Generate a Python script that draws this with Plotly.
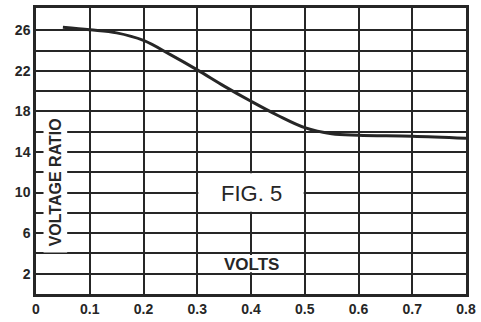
import plotly.graph_objects as go

# Voltage ratio versus applied volts
volts = [0.05, 0.1, 0.15, 0.2, 0.25, 0.3, 0.35, 0.4, 0.45, 0.5, 0.55, 0.6, 0.7, 0.8]
ratio = [26.3, 26.05, 25.75, 25.0, 23.6, 22.1, 20.5, 19.0, 17.6, 16.4, 15.8, 15.65, 15.55, 15.35]

x_ticks = [0, 0.1, 0.2, 0.3, 0.4, 0.5, 0.6, 0.7, 0.8]
x_labels = ["0", "0.1", "0.2", "0.3", "0.4", "0.5", "0.6", "0.7", "0.8"]
y_ticks = [0, 2, 4, 6, 8, 10, 12, 14, 16, 18, 20, 22, 24, 26]
y_labels = ["", "2", "", "6", "", "10", "", "14", "", "18", "", "22", "", "26"]

INK = "#262626"
TICK_FONT = dict(family="Liberation Sans", size=14, color=INK, weight="bold")

fig = go.Figure()
fig.add_trace(go.Scatter(
    x=volts, y=ratio, mode="lines",
    line=dict(color=INK, width=3, shape="spline", smoothing=1.0),
    hoverinfo="skip", showlegend=False,
))

# white panels that interrupt the grid behind the lettering
panels = [
    (0.014, 0.058, 4.1, 17.9),   # y-axis title
    (0.302, 0.498, 8.1, 11.9),   # figure caption
    (0.315, 0.485, 2.15, 3.85),  # x-axis title
]
for x0, x1, y0, y1 in panels:
    fig.add_shape(type="rect", xref="x", yref="y", x0=x0, x1=x1, y0=y0, y1=y1,
                  fillcolor="white", line=dict(width=0), layer="above")

fig.add_annotation(x=0.037, y=11.0, xref="x", yref="y", text="VOLTAGE RATIO",
                   textangle=-90, showarrow=False,
                   font=dict(family="Liberation Sans", size=16, color=INK, weight="bold"))
fig.add_annotation(x=0.4, y=9.95, xref="x", yref="y", text="FIG. 5",
                   showarrow=False,
                   font=dict(family="Liberation Sans", size=22, color=INK))
fig.add_annotation(x=0.4, y=2.95, xref="x", yref="y", text="VOLTS",
                   showarrow=False,
                   font=dict(family="Liberation Sans", size=17, color=INK, weight="bold"))

fig.update_xaxes(
    range=[0, 0.8], tickvals=x_ticks, ticktext=x_labels,
    showgrid=True, gridcolor=INK, gridwidth=2,
    showline=True, mirror=True, linecolor=INK, linewidth=2.5,
    ticks="", zeroline=False, tickfont=TICK_FONT,
)
fig.update_yaxes(
    range=[0, 28.2], tickvals=y_ticks, ticktext=y_labels,
    showgrid=True, gridcolor=INK, gridwidth=2,
    showline=True, mirror=True, linecolor=INK, linewidth=2.5,
    ticks="", zeroline=False, tickfont=TICK_FONT,
)
fig.update_layout(
    width=481, height=322,
    margin=dict(l=36, r=15, t=5, b=23),
    paper_bgcolor="white", plot_bgcolor="white",
)

fig.write_html("out.html")
